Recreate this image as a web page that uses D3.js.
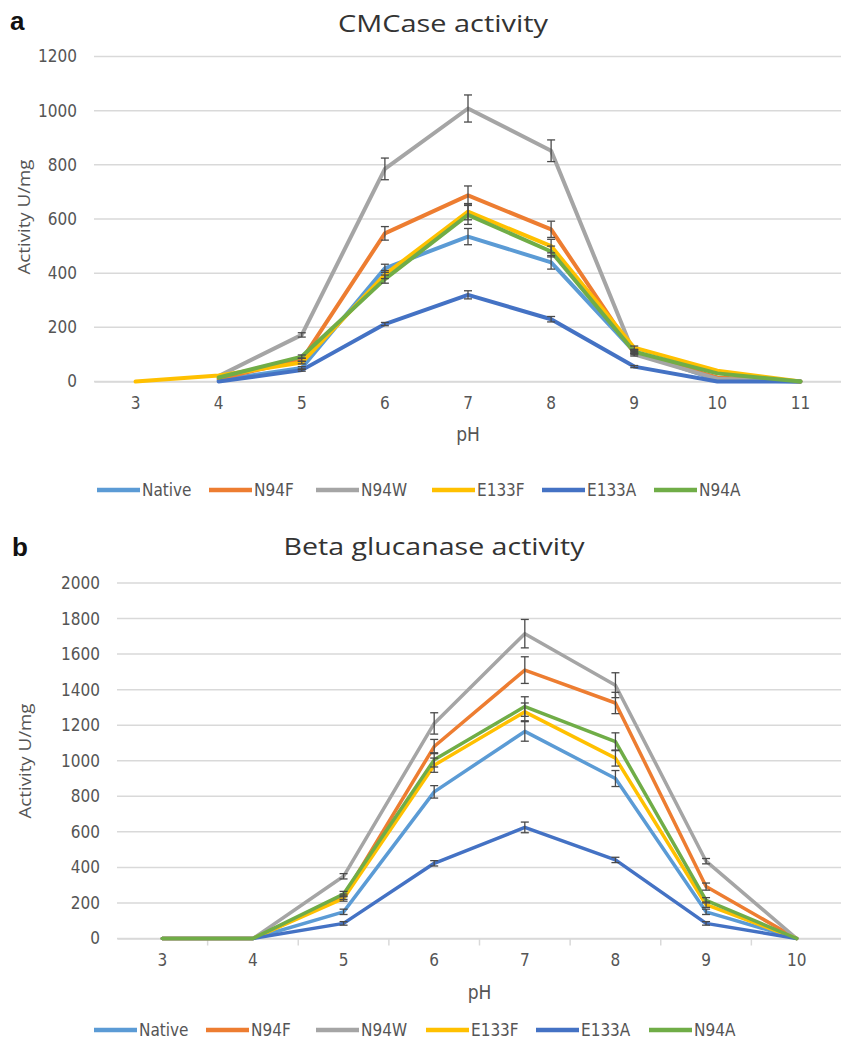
<!DOCTYPE html>
<html><head><meta charset="utf-8">
<script src="https://cdn.jsdelivr.net/npm/d3@7"></script>
<style>body{margin:0;background:#fff}svg{display:block}</style>
</head><body>
<svg id="c" width="841" height="1039"></svg>
<script>
// ---------- data ----------
const seriesNames = ["Native","N94F","N94W","E133F","E133A","N94A"];
const seriesColors = ["#5B9BD5","#ED7D31","#A5A5A5","#FFC000","#4472C4","#70AD47"];

const phTop = ["3","4","5","6","7","8","9","10","11"];
const cmcNative = [null,5,50,418,535,440,110,5,0];
const cmcN94F   = [null,10,80,547,687,562,105,15,0];
const cmcN94W   = [null,20,172,785,1008,852,100,10,0];
const cmcE133F  = [0,22,70,395,627,500,125,40,0];
const cmcE133A  = [null,0,42,212,320,230,55,0,0];
const cmcN94A   = [null,15,92,378,615,480,110,30,0];
const cmcNativeErr = [0,0,5,15,30,25,6,0,0];
const cmcN94FErr   = [0,0,6,25,35,30,6,0,0];
const cmcN94WErr   = [0,0,8,40,50,40,6,0,0];
const cmcE133FErr  = [0,0,5,15,30,25,6,0,0];
const cmcE133AErr  = [0,0,4,6,15,10,4,0,0];
const cmcN94AErr   = [0,0,6,15,35,20,6,0,0];
const cmcTicks = [0,200,400,600,800,1000,1200];

const phBot = ["3","4","5","6","7","8","9","10"];
const bgNative = [0,0,150,825,1165,900,150,0];
const bgN94F   = [0,0,235,1080,1510,1325,292,0];
const bgN94W   = [0,0,350,1210,1715,1425,435,0];
const bgE133F  = [0,0,225,975,1275,1015,190,0];
const bgE133A  = [0,0,85,423,625,442,85,0];
const bgN94A   = [0,0,250,1005,1305,1107,215,0];
const bgNativeErr = [0,0,15,35,55,45,15,0];
const bgN94FErr   = [0,0,15,40,75,60,20,0];
const bgN94WErr   = [0,0,15,60,80,70,15,0];
const bgE133FErr  = [0,0,15,40,50,45,15,0];
const bgE133AErr  = [0,0,10,15,30,15,10,0];
const bgN94AErr   = [0,0,15,40,55,50,15,0];
const bgTicks = [0,200,400,600,800,1000,1200,1400,1600,1800,2000];

// ---------- drawing ----------
const svg = d3.select("#c");
const FONT = "'Liberation Sans Narrow','DejaVu Sans Condensed','Open Sans',sans-serif";

function drawChart(o){
  const g = svg.append("g");
  const x = d3.scaleBand().domain(o.cats).range([o.x0,o.x1]);
  const y = d3.scaleLinear().domain([0,o.ymax]).range([o.y0,o.y1]);
  const cx = c => x(c)+x.bandwidth()/2;

  g.append("text").attr("x",o.letterX).attr("y",o.letterY)
    .attr("font-family","Arial,'Liberation Sans',sans-serif").attr("font-weight","bold")
    .attr("font-size",26).attr("fill","#111").text(o.letter);
  g.append("text").attr("x",o.titleX).attr("y",o.titleY).attr("text-anchor","middle")
    .attr("font-family","'Open Sans',sans-serif").attr("font-size",23).attr("fill","#333")
    .attr("textLength",o.titleW).attr("lengthAdjust","spacingAndGlyphs").text(o.title);

  g.append("g").selectAll("line").data(o.ticks).join("line")
    .attr("x1",o.x0).attr("x2",o.x1).attr("y1",d=>y(d)).attr("y2",d=>y(d))
    .attr("stroke","#d9d9d9").attr("stroke-width",1.5);

  g.append("g").selectAll("text").data(o.ticks).join("text")
    .attr("x",o.x0-17).attr("y",d=>y(d)).attr("dy","0.35em").attr("text-anchor","end")
    .attr("font-family",FONT).attr("font-size",17).attr("fill","#555").text(d=>d);

  const xa = g.append("g").attr("transform",`translate(0,${o.y0})`)
    .call(d3.axisBottom(x).tickSize(0).tickPadding(15));
  xa.select(".domain").attr("stroke","#d9d9d9").attr("stroke-width",1.5);
  xa.selectAll("text").attr("font-family",FONT).attr("font-size",17).attr("fill","#555");
  if(o.boundaryTicks){
    g.append("g").selectAll("line").data(o.cats.slice(1)).join("line")
      .attr("x1",d=>x(d)).attr("x2",d=>x(d)).attr("y1",o.y0).attr("y2",o.y0+7)
      .attr("stroke","#d9d9d9").attr("stroke-width",1.5);
  }
  g.append("text").attr("x",(o.x0+o.x1)/2).attr("y",o.xTitleY).attr("text-anchor","middle")
    .attr("font-family",FONT).attr("font-size",19).attr("fill","#555").text("pH");
  g.append("text").attr("transform",`translate(${o.yTitleX},${o.yTitleY}) rotate(-90)`)
    .attr("text-anchor","middle").attr("dy","0.35em").attr("font-family","'Open Sans',sans-serif").attr("font-size",17)
    .attr("fill","#555").attr("textLength",115).attr("lengthAdjust","spacingAndGlyphs").text("Activity U/mg");

  const line = d3.line().defined(d=>d.v!=null).x(d=>cx(d.c)).y(d=>y(d.v));
  o.series.forEach((s,i)=>{
    const pts = o.cats.map((c,j)=>({c,v:s[j]}));
    g.append("path").datum(pts).attr("d",line).attr("fill","none")
      .attr("stroke",seriesColors[i]).attr("stroke-width",o.lw).attr("stroke-linejoin","round").attr("stroke-linecap","round");
  });
  o.series.forEach((s,i)=>{
    const pts = o.cats.map((c,j)=>({c,v:s[j],e:o.errs[i][j]})).filter(d=>d.v!=null && d.e>0);
    const eg = g.append("g").attr("stroke","#4a4a4a").attr("stroke-width",1.3);
    eg.selectAll("line.v").data(pts).join("line").attr("class","v")
      .attr("x1",d=>cx(d.c)).attr("x2",d=>cx(d.c)).attr("y1",d=>y(d.v-d.e)).attr("y2",d=>y(d.v+d.e));
    eg.selectAll("line.t").data(pts).join("line").attr("class","t")
      .attr("x1",d=>cx(d.c)-4).attr("x2",d=>cx(d.c)+4).attr("y1",d=>y(d.v+d.e)).attr("y2",d=>y(d.v+d.e));
    eg.selectAll("line.b").data(pts).join("line").attr("class","b")
      .attr("x1",d=>cx(d.c)-4).attr("x2",d=>cx(d.c)+4).attr("y1",d=>y(d.v-d.e)).attr("y2",d=>y(d.v-d.e));
  });

  const lg = g.append("g").attr("transform",`translate(0,${o.legY})`);
  seriesNames.forEach((n,i)=>{
    const lx = o.legX[i];
    lg.append("line").attr("x1",lx).attr("x2",lx+43).attr("y1",0).attr("y2",0)
      .attr("stroke",seriesColors[i]).attr("stroke-width",4.5);
    lg.append("text").attr("x",lx+45).attr("y",0).attr("dy","0.35em")
      .attr("font-family",FONT).attr("font-size",17).attr("fill","#555").text(n);
  });
}

drawChart({
  cats: phTop, ymax: 1200, ticks: cmcTicks,
  x0: 94, x1: 842, y0: 381.5, y1: 56.5,
  series: [cmcNative,cmcN94F,cmcN94W,cmcE133F,cmcE133A,cmcN94A],
  errs: [cmcNativeErr,cmcN94FErr,cmcN94WErr,cmcE133FErr,cmcE133AErr,cmcN94AErr],
  letter: "a", letterX: 10, letterY: 30,
  title: "CMCase activity", titleX: 443, titleY: 32, titleW: 210,
  xTitleY: 441, yTitleX: 24, yTitleY: 217, legY: 490, legX: [97,209,316,432,542,654],
  lw: 4, boundaryTicks: false
});
drawChart({
  cats: phBot, ymax: 2000, ticks: bgTicks,
  x0: 117, x1: 842, y0: 938.5, y1: 583,
  series: [bgNative,bgN94F,bgN94W,bgE133F,bgE133A,bgN94A],
  errs: [bgNativeErr,bgN94FErr,bgN94WErr,bgE133FErr,bgE133AErr,bgN94AErr],
  letter: "b", letterX: 12, letterY: 556,
  title: "Beta glucanase activity", titleX: 434, titleY: 555, titleW: 301,
  xTitleY: 999, yTitleX: 25, yTitleY: 761, legY: 1030, legX: [94,206,316,426,536,649],
  lw: 3.5, boundaryTicks: true
});
</script>
</body></html>
